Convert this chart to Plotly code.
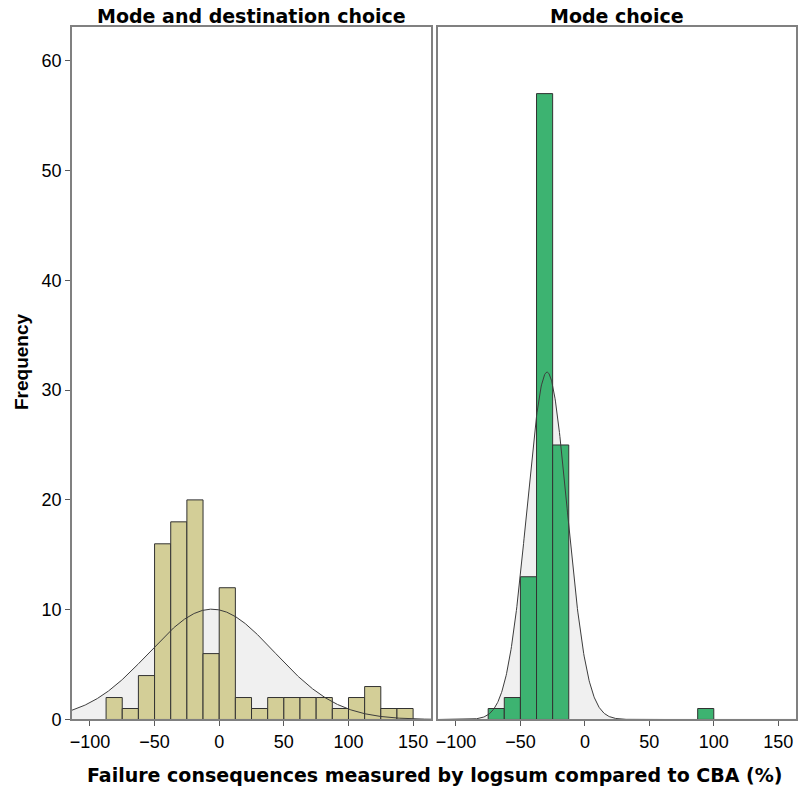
import numpy as np
import plotly.graph_objects as go

# ---- data ----
bin_width = 12.5
left_bin_starts = [-87.5, -75, -62.5, -50, -37.5, -25, -12.5, 0, 12.5, 25, 37.5,
                   50, 62.5, 75, 87.5, 100, 112.5, 125, 137.5]
left_counts = [2, 1, 4, 16, 18, 20, 6, 12, 2, 1, 2, 2, 2, 2, 1, 2, 3, 1, 1]

right_bin_starts = [-75, -62.5, -50, -37.5, -25, 87.5]
right_counts = [1, 2, 13, 57, 25, 1]

panel_titles = ["Mode and destination choice", "Mode choice"]
x_title = "Failure consequences measured by logsum compared to CBA (%)"
y_title = "Frequency"
x_ticks = [-100, -50, 0, 50, 100, 150]
y_ticks = [0, 10, 20, 30, 40, 50, 60]

colors = ["rgb(211,206,151)", "rgb(61,179,113)"]

X_RANGE = [-114, 164]
Y_RANGE = [0, 63.1]

W, H = 799, 796          # reference frame
FIG_H = 804              # rendered height compensation
x_domains = [[70 / W, 430.3 / W], [437 / W, 796.3 / W]]
y_domain = [1 - 721.3 / H, 1 - 26.7 / H]

fig = go.Figure()


def normal_curve(starts, counts):
    centers = np.array(starts) + bin_width / 2
    c = np.array(counts, dtype=float)
    n = c.sum()
    mean = (centers * c).sum() / n
    sd = np.sqrt(((centers - mean) ** 2 * c).sum() / (n - 1))
    xs = np.linspace(X_RANGE[0], X_RANGE[1], 800)
    ys = n * bin_width / (sd * np.sqrt(2 * np.pi)) * np.exp(-0.5 * ((xs - mean) / sd) ** 2)
    return xs, ys


panels = [(left_bin_starts, left_counts), (right_bin_starts, right_counts)]
base_axes = [("x", "y"), ("x2", "y2")]
over_axes = [("x3", "y3"), ("x4", "y4")]
for i, (starts, counts) in enumerate(panels):
    bx, by = base_axes[i]
    ox, oy = over_axes[i]
    xs, ys = normal_curve(starts, counts)
    # gray filled area under the normal curve (on base axes -> below the bars)
    fig.add_trace(go.Scatter(x=xs, y=ys, mode="lines", line=dict(width=0, color="rgba(0,0,0,0)"),
                             fill="tozeroy", fillcolor="rgb(240,240,240)",
                             xaxis=bx, yaxis=by, showlegend=False, hoverinfo="skip"))
    centers = [s + bin_width / 2 for s in starts]
    fig.add_trace(go.Bar(x=centers, y=counts, width=bin_width,
                         marker=dict(color=colors[i], line=dict(color="rgb(50,50,50)", width=1)),
                         xaxis=ox, yaxis=oy, showlegend=False))
    fig.add_trace(go.Scatter(x=xs, y=ys, mode="lines", line=dict(width=1, color="rgb(60,60,60)"),
                             xaxis=ox, yaxis=oy, showlegend=False, hoverinfo="skip"))

tick_font = dict(family="Liberation Sans, Arial", size=18, color="black")
axis_common = dict(showgrid=False, zeroline=False, showline=True, mirror=True,
                   linecolor="rgb(128,128,128)", linewidth=1.5,
                   ticklen=5, tickcolor="rgb(90,90,90)", tickfont=tick_font)
hidden = dict(visible=False, showgrid=False, zeroline=False)

fig.update_layout(
    width=W, height=FIG_H, autosize=False,
    margin=dict(l=0, r=0, t=0, b=0),
    paper_bgcolor="white", plot_bgcolor="white",
    barmode="overlay",
    xaxis=dict(domain=x_domains[0], range=X_RANGE, tickvals=x_ticks, anchor="y", ticks="outside", **axis_common),
    xaxis2=dict(domain=x_domains[1], range=X_RANGE, tickvals=x_ticks, anchor="y2", ticks="outside", **axis_common),
    yaxis=dict(domain=y_domain, range=Y_RANGE, tickvals=y_ticks, anchor="x", ticks="outside", **axis_common),
    yaxis2=dict(domain=y_domain, range=Y_RANGE, tickvals=y_ticks, anchor="x2", ticks="",
                showticklabels=False, **axis_common),
    xaxis3=dict(overlaying="x", range=X_RANGE, anchor="y3", **hidden),
    yaxis3=dict(overlaying="y", range=Y_RANGE, anchor="x3", **hidden),
    xaxis4=dict(overlaying="x2", range=X_RANGE, anchor="y4", **hidden),
    yaxis4=dict(overlaying="y2", range=Y_RANGE, anchor="x4", **hidden),
)

title_font = dict(family="DejaVu Sans", size=19, color="black")
fig.add_annotation(text="<b>%s</b>" % panel_titles[0], x=(x_domains[0][0] + x_domains[0][1]) / 2,
                   y=1 - 16 / H, xref="paper", yref="paper", showarrow=False, font=title_font,
                   xanchor="center", yanchor="middle")
fig.add_annotation(text="<b>%s</b>" % panel_titles[1], x=(x_domains[1][0] + x_domains[1][1]) / 2,
                   y=1 - 16 / H, xref="paper", yref="paper", showarrow=False, font=title_font,
                   xanchor="center", yanchor="middle")
fig.add_annotation(text="<b>%s</b>" % x_title, x=434 / W, y=1 - 777 / H, xref="paper", yref="paper",
                   showarrow=False, font=title_font, xanchor="center", yanchor="middle")
fig.add_annotation(text="<b>%s</b>" % y_title, x=19 / W, y=1 - 362 / H, xref="paper", yref="paper",
                   showarrow=False, font=dict(family="Liberation Sans, Arial", size=19, color="black"),
                   textangle=-90, xanchor="center", yanchor="middle")

fig.write_html("out.html", config={"displayModeBar": False, "responsive": False},
               post_script="document.body.style.margin='0';")
